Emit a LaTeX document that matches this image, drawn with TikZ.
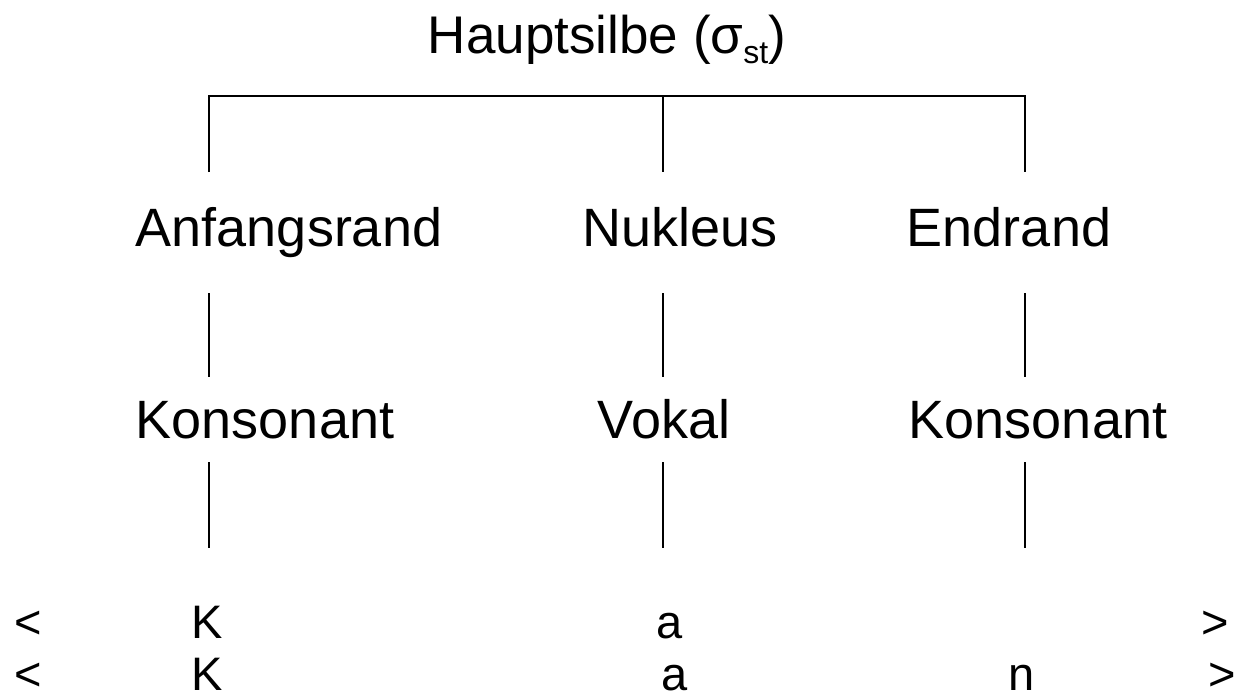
\documentclass[tikz,border=0pt]{standalone}
\usepackage{fontspec}
\setmainfont{Liberation Sans}
\begin{document}
\begin{tikzpicture}[x=1pt,y=-1pt,
  lbl/.style={anchor=base,inner sep=0pt,font=\fontsize{54}{64}\selectfont},
  ttl/.style={anchor=base,inner sep=0pt,font=\fontsize{53}{63}\selectfont},
  seg/.style={anchor=base,inner sep=0pt,text depth=0pt,font=\fontsize{47}{56}\selectfont},
  ln/.style={line width=1.3pt,black}]
\useasboundingbox (0,0) rectangle (1240,696);
% title
\node[ttl] (title) at (607,53) {Hauptsilbe (σ\raisebox{-10pt}{\fontsize{32}{38}\selectfont st})};
% row 1
\node[lbl] (anf) at (289,246) {Anfangsrand};
\node[lbl] (nuk) at (680,246) {Nukleus};
\node[lbl] (end) at (1009,246) {Endrand};
% row 2
\node[lbl] (kon1) at (265,438) {Konsonant};
\node[lbl] (vok) at (664,438) {Vokal};
\node[lbl] (kon2) at (1038,438) {Konsonant};
% row 3
\node[seg] (lt3) at (28,638) {<};
\node[seg] (k3) at (207,638) {K};
\node[seg] (a3) at (670,638) {a};
\node[seg] (gt3) at (1215,638) {>};
% row 4
\node[seg] (lt4) at (28,690) {<};
\node[seg] (k4) at (207,690) {K};
\node[seg] (a4) at (675,690) {a};
\node[seg] (n4) at (1022,690) {n};
\node[seg] (gt4) at (1222,690) {>};
% connector coordinates
\coordinate (bl) at (209,96);
\coordinate (bc) at (663,96);
\coordinate (br) at (1025,96);
\coordinate (l1) at (209,172);
\coordinate (c1) at (663,172);
\coordinate (r1) at (1025,172);
\coordinate (l2a) at (209,293);
\coordinate (c2a) at (663,293);
\coordinate (r2a) at (1025,293);
\coordinate (l2b) at (209,377);
\coordinate (c2b) at (663,377);
\coordinate (r2b) at (1025,377);
\coordinate (l3a) at (209,462);
\coordinate (c3a) at (663,462);
\coordinate (r3a) at (1025,462);
\coordinate (l3b) at (209,548);
\coordinate (c3b) at (663,548);
\coordinate (r3b) at (1025,548);
% bracket
\draw[ln] (l1) -- (bl) -- (br) -- (r1);
\draw[ln] (bc) -- (c1);
% vertical links
\draw[ln] (l2a) -- (l2b);
\draw[ln] (c2a) -- (c2b);
\draw[ln] (r2a) -- (r2b);
\draw[ln] (l3a) -- (l3b);
\draw[ln] (c3a) -- (c3b);
\draw[ln] (r3a) -- (r3b);
\end{tikzpicture}
\end{document}
